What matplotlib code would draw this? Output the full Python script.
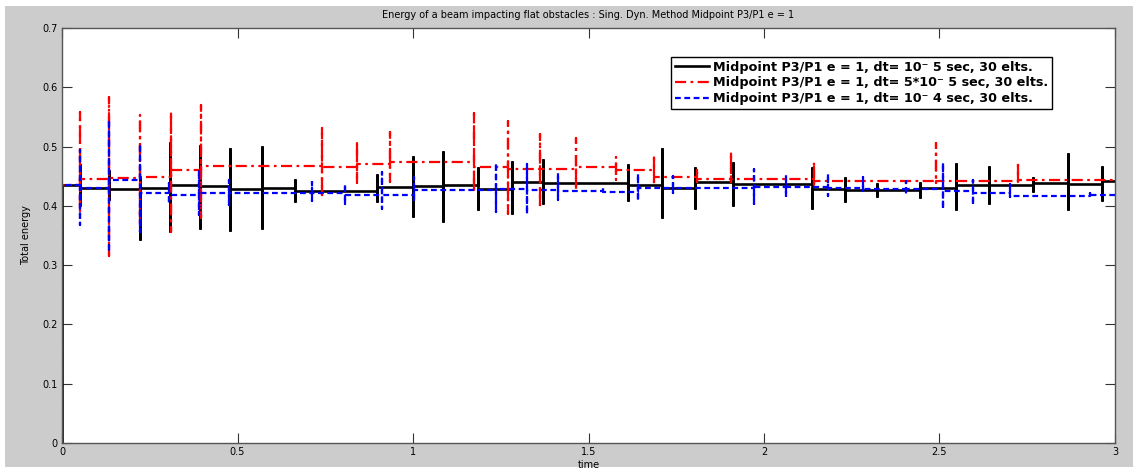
import numpy as np
import matplotlib
matplotlib.use("Agg")
import matplotlib.pyplot as plt
from matplotlib.patches import Rectangle

# impacts: time, spike top, spike bottom, energy level after the impact
start_level = 0.435

black_t = [0.051, 0.133, 0.222, 0.308, 0.393, 0.480, 0.569, 0.664, 0.898, 0.999,
           1.085, 1.186, 1.281, 1.371, 1.613, 1.708, 1.803, 1.912, 2.138, 2.231,
           2.321, 2.444, 2.546, 2.641, 2.765, 2.865, 2.962]
black_hi = [0.470, 0.460, 0.450, 0.507, 0.5025, 0.497, 0.501, 0.446, 0.453, 0.484,
            0.4925, 0.466, 0.4755, 0.479, 0.470, 0.497, 0.465, 0.4745, 0.466, 0.449,
            0.438, 0.4405, 0.4715, 0.467, 0.448, 0.4885, 0.467]
black_lo = [0.400, 0.410, 0.342, 0.356, 0.361, 0.358, 0.361, 0.407, 0.407, 0.3805,
            0.373, 0.393, 0.387, 0.404, 0.408, 0.379, 0.394, 0.3995, 0.394, 0.407,
            0.4155, 0.4125, 0.393, 0.404, 0.424, 0.393, 0.408]
black_lvl = [0.4295, 0.428, 0.431, 0.435, 0.434, 0.428, 0.4295, 0.425, 0.432, 0.433,
             0.436, 0.428, 0.4405, 0.439, 0.436, 0.4295, 0.4405, 0.4365, 0.428, 0.426,
             0.426, 0.4305, 0.435, 0.435, 0.438, 0.4365, 0.442]

red_t = [0.051, 0.133, 0.222, 0.310, 0.396, 0.740, 0.840, 0.934, 1.175, 1.272,
         1.362, 1.464, 1.577, 1.687, 1.810, 1.905, 2.142, 2.489, 2.724]
red_hi = [0.559, 0.584, 0.554, 0.558, 0.571, 0.531, 0.509, 0.524, 0.556, 0.543,
          0.5205, 0.515, 0.483, 0.4855, 0.4635, 0.491, 0.4745, 0.5065, 0.4745]
red_lo = [0.390, 0.316, 0.368, 0.356, 0.379, 0.413, 0.438, 0.441, 0.424, 0.387,
          0.396, 0.4265, 0.4445, 0.435, 0.440, 0.4405, 0.432, 0.439, 0.439]
red_lvl = [0.445, 0.4475, 0.449, 0.460, 0.468, 0.466, 0.4705, 0.4745, 0.466, 0.4615,
           0.4615, 0.466, 0.4605, 0.448, 0.4455, 0.446, 0.442, 0.442, 0.4435]

blue_t = [0.050, 0.133, 0.222, 0.305, 0.390, 0.477, 0.713, 0.806, 0.911, 1.003,
          1.236, 1.326, 1.412, 1.542, 1.642, 1.740, 1.971, 2.063, 2.183, 2.283,
          2.405, 2.511, 2.596, 2.701, 2.930]
blue_hi = [0.494, 0.545, 0.505, 0.438, 0.460, 0.443, 0.441, 0.437, 0.4575, 0.449,
           0.473, 0.470, 0.455, 0.432, 0.454, 0.450, 0.463, 0.452, 0.4535, 0.449,
           0.4425, 0.4715, 0.4445, 0.437, 0.421]
blue_lo = [0.368, 0.323, 0.356, 0.404, 0.384, 0.401, 0.409, 0.404, 0.3945, 0.406,
           0.390, 0.3855, 0.410, 0.423, 0.408, 0.421, 0.404, 0.4155, 0.4165, 0.4245,
           0.420, 0.394, 0.401, 0.4155, 0.416]
blue_lvl = [0.4295, 0.4435, 0.4225, 0.418, 0.421, 0.421, 0.421, 0.418, 0.419, 0.4265,
            0.428, 0.4275, 0.4255, 0.424, 0.4295, 0.4295, 0.432, 0.432, 0.4295, 0.429,
            0.429, 0.4255, 0.4225, 0.4165, 0.418]

t_end = 3.0
labels = ["Midpoint P3/P1 e = 1, dt= 10\u207b 5 sec, 30 elts.",
          "Midpoint P3/P1 e = 1, dt= 5*10\u207b 5 sec, 30 elts.",
          "Midpoint P3/P1 e = 1, dt= 10\u207b 4 sec, 30 elts."]


def build_curve(ts, hi, lo, lvl):
    # start from zero at t=0, then step through each impact
    x = [0.0, 0.0]
    y = [0.0, start_level]
    prev = start_level
    for t, h, l, v in zip(ts, hi, lo, lvl):
        x += [t, t, t, t]
        y += [prev, h, l, v]
        prev = v
    x.append(t_end)
    y.append(prev)
    return np.array(x), np.array(y)


fig = plt.figure(figsize=(11.36, 4.72), dpi=100, facecolor="white")
fig.patches.append(Rectangle((0.004, 0.011), 0.993, 0.977, transform=fig.transFigure,
                             facecolor="#cccccc", edgecolor="none", zorder=-10))
ax = fig.add_axes([0.0546, 0.0614, 0.9269, 0.8792])
ax.set_facecolor("white")

xb, yb = build_curve(black_t, black_hi, black_lo, black_lvl)
xr, yr = build_curve(red_t, red_hi, red_lo, red_lvl)
xu, yu = build_curve(blue_t, blue_hi, blue_lo, blue_lvl)

ax.plot(xb, yb, color="black", lw=1.9, ls="-", label=labels[0], solid_joinstyle="miter")
ax.plot(xr, yr, color="red", lw=1.6, dashes=(5, 2, 1.2, 2), label=labels[1])
ax.plot(xu, yu, color="blue", lw=1.6, dashes=(2.6, 1.6), label=labels[2])

ax.set_xlim(0, 3)
ax.set_ylim(0, 0.7)
ax.set_xticks([0, 0.5, 1, 1.5, 2, 2.5, 3])
ax.set_xticklabels(["0", "0.5", "1", "1.5", "2", "2.5", "3"])
ax.set_yticks([0, 0.1, 0.2, 0.3, 0.4, 0.5, 0.6, 0.7])
ax.set_yticklabels(["0", "0.1", "0.2", "0.3", "0.4", "0.5", "0.6", "0.7"])
ax.tick_params(direction="in", top=True, right=True, length=7, width=0.8,
               labelsize=7, pad=3, colors="#333333", labelcolor="black")
for s in ax.spines.values():
    s.set_color("#555555")
    s.set_linewidth(1.0)

ax.set_title("Energy of a beam impacting flat obstacles : Sing. Dyn. Method Midpoint P3/P1 e = 1",
             fontsize=7, pad=7)
ax.set_xlabel("time", fontsize=7, labelpad=2)
ax.set_ylabel("Total energy", fontsize=7, labelpad=8)

leg = ax.legend(loc="upper right", bbox_to_anchor=(0.940, 0.930), borderaxespad=0,
                fancybox=False, edgecolor="black", framealpha=1,
                prop={"weight": "bold", "size": 9.2, "family": ["DejaVu Sans"]},
                handlelength=2.7, handletextpad=0.3, labelspacing=0.2,
                borderpad=0.3)
leg.get_frame().set_linewidth(1.0)

fig.savefig("out.png", dpi=100, facecolor=fig.get_facecolor())
